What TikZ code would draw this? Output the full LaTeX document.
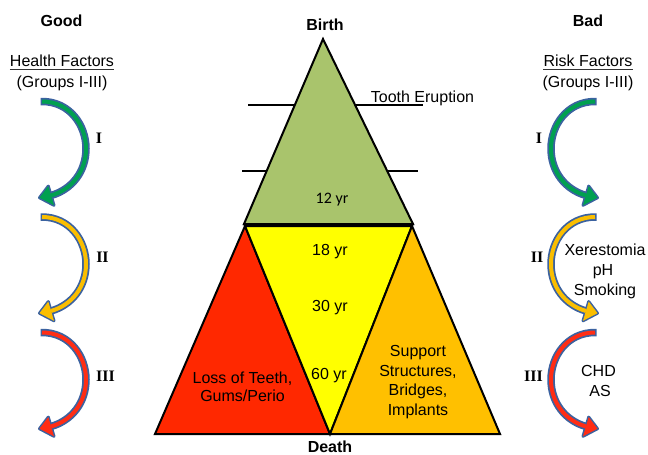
\documentclass[tikz,border=0pt]{standalone}
\usepackage{fontspec}
\setmainfont{Liberation Sans}
\newfontfamily\romfont{Liberation Serif}
\newfontfamily\calfont{Carlito}
\definecolor{arrblue}{RGB}{59,98,160}
\definecolor{arrgreen}{RGB}{0,160,80}
\definecolor{arrgold}{RGB}{250,190,0}
\definecolor{arrred}{RGB}{255,45,20}
\definecolor{trigreen}{RGB}{169,196,108}
\definecolor{trired}{RGB}{255,40,0}
\definecolor{triyellow}{RGB}{255,255,0}
\definecolor{triorange}{RGB}{255,192,0}
\tikzset{
  txt/.style={font=\fontsize{16}{19.5}\selectfont, inner sep=0pt, anchor=base},
  btxt/.style={font=\fontsize{16}{19.5}\selectfont\bfseries, inner sep=0pt, anchor=base},
  ctxt/.style={font=\fontsize{16}{19.5}\selectfont\calfont, inner sep=0pt, anchor=base},
  romlbl/.style={font=\fontsize{16}{19.5}\selectfont\romfont\bfseries, inner sep=0pt},
  tri/.style={draw=black, line width=2pt},
  eraline/.style={draw=black, line width=1.5pt},
  uline/.style={draw=black!80, line width=0.9pt},
  pics/curvarr/.style={code={
    \draw[arrblue, line width=7.5pt] (-1.5,0) -- (0,0) .. controls (28,0) and (44,24) .. (44,47) .. controls (44,70) and (30,88) .. (9,94);
    \filldraw[arrblue, line width=3pt, line join=round] (-2.5,96.2) -- (6.3,84.6) -- (12,103.8) -- cycle;
    \draw[#1, line width=4pt] (0,0) .. controls (28,0) and (44,24) .. (44,47) .. controls (44,70) and (30,88) .. (9,94);
    \fill[#1] (-2.5,96.2) -- (6.3,84.6) -- (12,103.8) -- cycle;
  }}
}
\begin{document}
\begin{tikzpicture}[x=1pt,y=-1pt]
\useasboundingbox (0,0) rectangle (648,455);
\fill[white] (0,0) rectangle (648,455);

% left column
\node[btxt] (good) at (61.5,27) {Good};
\node[txt] (hf) at (62,66.7) {Health Factors};
\draw[uline] ([yshift=-2.4pt]hf.base west) -- ([yshift=-2.4pt]hf.base east);
\node[txt] (hg) at (62,87) {(Groups I-III)};
\pic (la1) at (42,101.5) {curvarr=arrgreen};
\pic (la2) at (42,217) {curvarr=arrgold};
\pic (la3) at (42,332.5) {curvarr=arrred};
\node[romlbl] (l1) at (99,138) {I};
\node[romlbl] (l2) at (102.5,257.5) {II};
\node[romlbl] (l3) at (105.5,376) {III};

% right column
\node[btxt] (bad) at (588,27) {Bad};
\node[txt] (rf) at (588,66.7) {Risk Factors};
\draw[uline] ([yshift=-2.4pt]rf.base west) -- ([yshift=-2.4pt]rf.base east);
\node[txt] (rg) at (588,87) {(Groups I-III)};
\pic[xscale=-1] (ra1) at (595,101.5) {curvarr=arrgreen};
\pic[xscale=-1] (ra2) at (595,217) {curvarr=arrgold};
\pic[xscale=-1] (ra3) at (595,332.5) {curvarr=arrred};
\node[romlbl] (r1) at (539,138) {I};
\node[romlbl] (r2) at (537,257.5) {II};
\node[romlbl] (r3) at (533.5,376) {III};
\node[txt] (xer1) at (605,255) {Xerestomia};
\node[txt] (xer2) at (603,275) {pH};
\node[txt] (xer3) at (605,295) {Smoking};
\node[txt] (chd1) at (598.5,376.7) {CHD};
\node[txt] (chd2) at (600,396.7) {AS};

% centre
\coordinate (apex) at (323,39);
\coordinate (gl) at (244,224);
\coordinate (gr) at (413,224);
\coordinate (yl) at (245,226);
\coordinate (yr) at (412,226);
\coordinate (bot) at (330,434);
\coordinate (rl) at (155,434);
\coordinate (or) at (500,434);
\coordinate (e1a) at (248,105);
\coordinate (e1b) at (423,105);
\coordinate (e2a) at (242,171);
\coordinate (e2b) at (418,171);
\draw[eraline] (e1a) -- (e1b);
\draw[eraline] (e2a) -- (e2b);
\filldraw[tri, fill=trigreen] (apex) -- (gl) -- (gr) -- cycle;
\filldraw[tri, fill=trired] (yl) -- (rl) -- (bot) -- cycle;
\filldraw[tri, fill=triyellow] (yl) -- (yr) -- (bot) -- cycle;
\filldraw[tri, fill=triorange] (yr) -- (bot) -- (or) -- cycle;

\node[btxt] (birth) at (325,30.7) {Birth};
\node[txt] (tooth) at (422.5,102.5) {Tooth Eruption};
\node[ctxt] (y12) at (332,203) {12 yr};
\node[txt] (y18) at (330,255.7) {18 yr};
\node[txt] (y30) at (330,311.7) {30 yr};
\node[txt] (y60) at (329,379) {60 yr};
\node[txt] (loss1) at (242.5,383) {Loss of Teeth,};
\node[txt] (loss2) at (242.5,401.7) {Gums/Perio};
\node[txt] (sup1) at (418,356.7) {Support};
\node[txt] (sup2) at (418,376.2) {Structures,};
\node[txt] (sup3) at (418,395.7) {Bridges,};
\node[txt] (sup4) at (418,415.2) {Implants};
\node[btxt] (death) at (330,452.5) {Death};
\end{tikzpicture}
\end{document}
